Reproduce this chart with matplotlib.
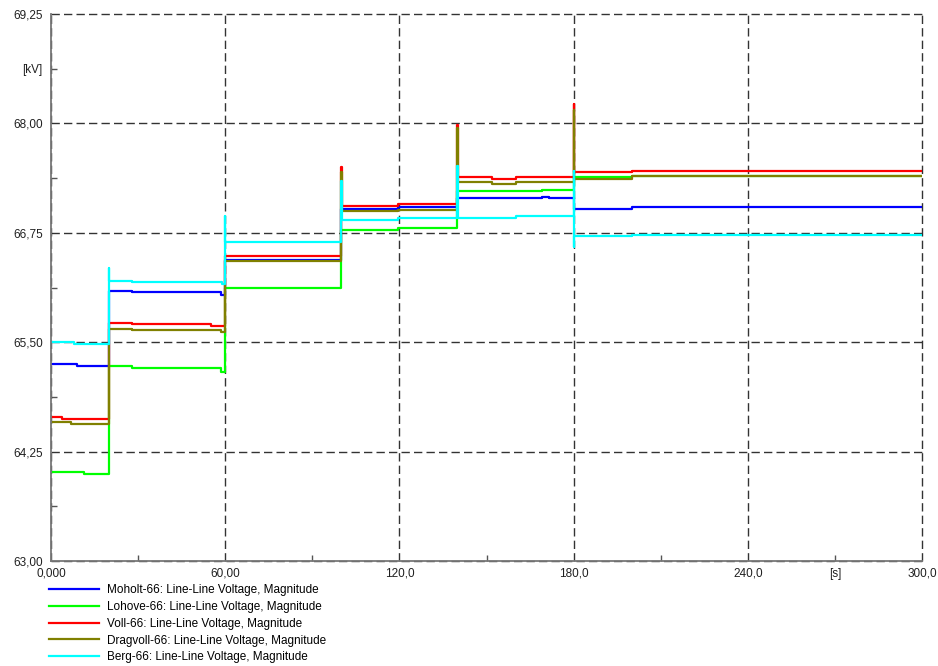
import matplotlib
matplotlib.use("Agg")
import matplotlib.pyplot as plt

plt.rcParams['font.family'] = ['Liberation Sans', 'DejaVu Sans']
plt.rcParams['font.size'] = 8.5

# Bus voltage magnitudes [kV] over time [s] (step changes, short transients at switching)
moholt_t = [0, 9, 20, 28, 58.5, 60, 100, 119.5, 140, 169, 171.5, 180, 200, 300]
moholt_v = [65.25, 65.225, 66.08, 66.07, 66.04, 66.435, 67.02, 67.04, 67.145, 67.16,
            67.15, 67.023, 67.04, 67.04]

lohove_t = [0, 11.5, 20, 28, 58.5, 60, 100, 119.5, 140, 169, 180, 200, 300]
lohove_v = [64.02, 63.99, 65.23, 65.205, 65.16, 66.115, 66.78, 66.81, 67.23, 67.24,
            67.385, 67.40, 67.40]

voll_t = [0, 3.7, 20, 28, 55, 60, 100, 100.1, 119.5, 140, 140.1, 152, 160, 180, 180.1, 200, 300]
voll_v = [64.64, 64.62, 65.72, 65.705, 65.69, 66.49, 67.50, 67.06, 67.08, 67.98, 67.385,
          67.37, 67.39, 68.22, 67.44, 67.46, 67.46]

dragvoll_t = [0, 7, 20, 28, 58.5, 60, 100, 100.1, 119.5, 140, 140.1, 152, 160, 180, 180.1, 200, 300]
dragvoll_v = [64.585, 64.56, 65.655, 65.64, 65.62, 66.43, 67.44, 66.996, 67.01, 67.95,
              67.325, 67.31, 67.33, 68.15, 67.365, 67.395, 67.395]

berg_t = [0, 8, 20, 20.1, 28, 59, 60, 60.1, 100, 100.1, 119.5, 140, 140.1, 160, 180,
          180.1, 180.2, 200, 300]
berg_v = [65.50, 65.477, 66.35, 66.20, 66.19, 66.17, 66.94, 66.65, 67.34, 66.897, 66.92,
          67.51, 66.92, 66.94, 67.46, 66.59, 66.71, 66.72, 66.72]

series = [
    ("Moholt-66: Line-Line Voltage, Magnitude", moholt_t, moholt_v, "#0000ff"),
    ("Lohove-66: Line-Line Voltage, Magnitude", lohove_t, lohove_v, "#00ff00"),
    ("Voll-66: Line-Line Voltage, Magnitude", voll_t, voll_v, "#ff0000"),
    ("Dragvoll-66: Line-Line Voltage, Magnitude", dragvoll_t, dragvoll_v, "#808000"),
    ("Berg-66: Line-Line Voltage, Magnitude", berg_t, berg_v, "#00ffff"),
]

x_major = [0, 60, 120, 180, 240, 300]
x_major_labels = ["0,000", "60,00", "120,0", "180,0", "240,0", "300,0"]
x_minor = [30, 90, 150, 210, 270]
x_minor_labels = ["", "", "", "", "[s]"]
y_major = [63.0, 64.25, 65.5, 66.75, 68.0, 69.25]
y_major_labels = ["63,00", "64,25", "65,50", "66,75", "68,00", "69,25"]
y_minor = [63.625, 64.875, 66.125, 67.375, 68.625]
y_minor_labels = ["", "", "", "", "[kV]"]

W, H = 938, 666
fig = plt.figure(figsize=(W / 100, H / 100), dpi=100)
ax = fig.add_axes([51 / W, (H - 561) / H, (922 - 51) / W, (561 - 14) / H])

lines = []
for label, t, v, c in series:
    ln, = ax.plot(t, v, drawstyle="steps-post", color=c, lw=1.6, label=label)
    lines.append(ln)

ax.set_xlim(0, 300)
ax.set_ylim(63.0, 69.25)

ax.set_xticks(x_major, x_major_labels)
ax.set_xticks(x_minor, x_minor_labels, minor=True)
ax.set_yticks(y_major, y_major_labels)
ax.set_yticks(y_minor, y_minor_labels, minor=True)

ax.tick_params(axis="both", which="major", length=0, pad=6, labelcolor="#202020")
ax.tick_params(axis="both", which="minor", direction="in", length=4, width=1,
               color="#555555", pad=6, labelcolor="#202020")
ax.tick_params(axis="x", which="both", pad=5)

ax.grid(True, which="major", color="#333333", lw=1, linestyle=(0, (6, 3)))
for gl in ax.get_xgridlines() + ax.get_ygridlines():
    gl.set_clip_on(False)
for side in ("top", "right"):
    ax.spines[side].set_visible(False)
for side in ("left", "bottom"):
    ax.spines[side].set_color("#777777")
    ax.spines[side].set_linewidth(1.3)
    ax.spines[side].set_zorder(3)

ax.legend(handles=lines, loc="upper left", bbox_to_anchor=(49 / W, (H - 584) / H),
          bbox_transform=fig.transFigure, frameon=False,
          handlelength=4.25, handletextpad=0.68, labelspacing=0.41,
          borderaxespad=0, borderpad=0)

fig.savefig("out.png", dpi=100)
